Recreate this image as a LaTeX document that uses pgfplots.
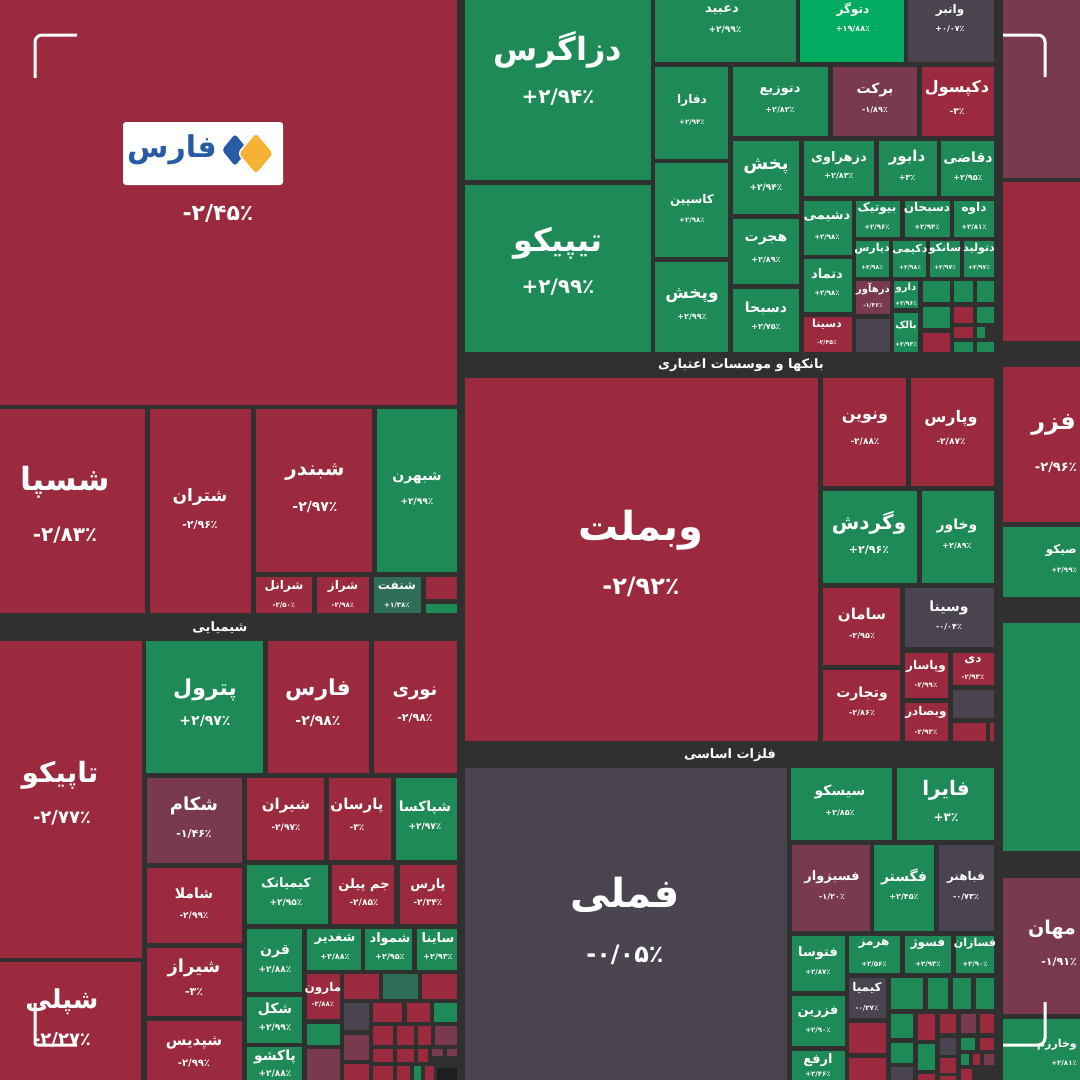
\documentclass[border=0pt]{standalone}
\usepackage{fontspec}
\usepackage{pgfplots}
\pgfplotsset{compat=1.18}
\TeXXeTstate=1
\newfontfamily\af[Script=Arabic]{DejaVu Sans}
\newfontfamily\nf{DejaVu Sans}
\definecolor{bg}{RGB}{48,48,48}
\definecolor{R}{RGB}{155,42,63}
\definecolor{G}{RGB}{30,138,88}
\definecolor{BG}{RGB}{0,172,95}
\definecolor{N}{RGB}{74,68,80}
\definecolor{DR}{RGB}{122,58,77}
\definecolor{DG}{RGB}{46,110,86}
\definecolor{BK}{RGB}{30,30,30}
\definecolor{logoblue}{RGB}{40,90,165}
\definecolor{logoyellow}{RGB}{246,178,52}
\newcommand{\R}[5]{\addplot[fill=#5,draw=none,mark=none,forget plot] coordinates {(#1,#2) (#3,#2) (#3,#4) (#1,#4)};}
\newcommand{\T}[4]{\node[text=white,inner sep=0pt] at (axis cs:#1,#2) {\fontsize{#3}{#3}\selectfont\af\bfseries\beginR #4\endR};}
\newcommand{\TT}[4]{\node[text=white,inner sep=0pt] at (axis cs:#1,#2) {\fontsize{#3}{#3}\selectfont\af\bfseries #4};}
\newcommand{\V}[4]{\node[text=white,inner sep=0pt] at (axis cs:#1,#2) {\fontsize{#3}{#3}\selectfont\nf\bfseries #4};}
\newcommand{\TE}[4]{\node[text=white,inner sep=0pt,anchor=east] at (axis cs:#1,#2) {\fontsize{#3}{#3}\selectfont\af\bfseries\beginR #4\endR};}
\newcommand{\VE}[4]{\node[text=white,inner sep=0pt,anchor=east] at (axis cs:#1,#2) {\fontsize{#3}{#3}\selectfont\nf\bfseries #4};}
\begin{document}
\begin{tikzpicture}
\begin{axis}[scale only axis, width=1080pt, height=1080pt,
  xmin=0, xmax=1080, ymin=0, ymax=1080, y dir=reverse, hide axis, clip=false]
\R{0}{0}{1080}{1080}{bg}
% top-left sector
\R{0}{0}{457}{405}{R}
\R{0}{409}{145}{613}{R}
\R{150}{409}{251}{613}{R}
\R{256}{409}{372}{572}{R}
\R{377}{409}{457}{572}{G}
\R{256}{577}{312}{613}{R}
\R{317}{577}{369}{613}{R}
\R{374}{577}{421}{613}{DG}
\R{426}{577}{457}{599}{R}
\R{426}{604}{457}{613}{G}
% chemicals
\R{0}{641}{142}{958}{R}
\R{146}{641}{263}{773}{G}
\R{268}{641}{369}{773}{R}
\R{374}{641}{457}{773}{R}
\R{147}{778}{242}{863}{DR}
\R{247}{778}{324}{860}{R}
\R{329}{778}{391}{860}{R}
\R{396}{778}{457}{860}{G}
\R{147}{868}{242}{943}{R}
\R{247}{865}{328}{924}{G}
\R{332}{865}{394}{924}{R}
\R{400}{865}{457}{924}{R}
\R{147}{948}{242}{1016}{R}
\R{147}{1021}{242}{1080}{R}
\R{0}{962}{141}{1080}{R}
\R{247}{929}{302}{992}{G}
\R{307}{929}{361}{970}{G}
\R{365}{929}{412}{970}{G}
\R{417}{929}{457}{970}{G}
\R{247}{997}{302}{1043}{G}
\R{247}{1047}{302}{1080}{G}
\R{307}{974}{340}{1019}{R}
\R{344}{974}{379}{999}{R}
\R{383}{974}{418}{999}{DG}
\R{422}{974}{457}{999}{R}
\R{307}{1024}{340}{1045}{G}
\R{344}{1003}{369}{1030}{N}
\R{373}{1003}{402}{1022}{R}
\R{407}{1003}{430}{1022}{R}
\R{434}{1003}{457}{1022}{G}
\R{373}{1026}{393}{1045}{R}
\R{397}{1026}{414}{1045}{R}
\R{418}{1026}{431}{1045}{R}
\R{435}{1026}{457}{1045}{DR}
\R{307}{1049}{340}{1080}{DR}
\R{344}{1035}{369}{1060}{DR}
\R{344}{1064}{369}{1080}{R}
\R{373}{1049}{393}{1062}{R}
\R{397}{1049}{414}{1062}{R}
\R{418}{1049}{428}{1062}{R}
\R{432}{1049}{443}{1056}{DR}
\R{447}{1049}{457}{1056}{DR}
\R{373}{1066}{393}{1080}{R}
\R{397}{1066}{410}{1080}{R}
\R{414}{1066}{421}{1080}{G}
\R{425}{1066}{434}{1080}{R}
\R{437}{1068}{457}{1080}{BK}
% pharma
\R{465}{0}{651}{180}{G}
\R{465}{185}{651}{352}{G}
\R{655}{0}{796}{62}{G}
\R{800}{0}{904}{62}{BG}
\R{908}{0}{994}{62}{N}
\R{655}{67}{728}{159}{G}
\R{655}{163}{728}{257}{G}
\R{655}{262}{728}{352}{G}
\R{733}{67}{828}{136}{G}
\R{833}{67}{917}{136}{DR}
\R{922}{67}{994}{136}{R}
\R{733}{141}{799}{214}{G}
\R{733}{219}{799}{284}{G}
\R{733}{289}{799}{352}{G}
\R{804}{141}{874}{196}{G}
\R{879}{141}{937}{196}{G}
\R{941}{141}{994}{196}{G}
\R{804}{201}{852}{255}{G}
\R{856}{201}{900}{237}{G}
\R{905}{201}{950}{237}{G}
\R{954}{201}{994}{237}{G}
\R{804}{259}{852}{312}{G}
\R{856}{241}{889}{277}{G}
\R{893}{241}{926}{277}{G}
\R{930}{241}{960}{277}{G}
\R{964}{241}{994}{277}{G}
\R{856}{281}{890}{314}{DR}
\R{894}{281}{918}{308}{G}
\R{804}{317}{852}{352}{R}
\R{856}{319}{890}{352}{N}
\R{894}{313}{918}{352}{G}
\R{923}{281}{950}{302}{G}
\R{954}{281}{973}{302}{G}
\R{977}{281}{994}{302}{G}
\R{923}{307}{950}{328}{G}
\R{954}{307}{973}{323}{R}
\R{977}{307}{994}{323}{G}
\R{923}{333}{950}{352}{R}
\R{954}{327}{973}{338}{R}
\R{977}{327}{985}{338}{G}
\R{954}{342}{973}{352}{G}
\R{977}{342}{994}{352}{G}
% right column
\R{1003}{0}{1080}{178}{DR}
\R{1003}{182}{1080}{341}{R}
\R{1003}{367}{1080}{522}{R}
\R{1003}{527}{1080}{597}{G}
\R{1003}{623}{1080}{851}{G}
\R{1003}{878}{1080}{1014}{DR}
\R{1003}{1019}{1080}{1080}{G}
% banks
\R{465}{378}{818}{741}{R}
\R{823}{378}{906}{486}{R}
\R{911}{378}{994}{486}{R}
\R{823}{491}{917}{583}{G}
\R{922}{491}{994}{583}{G}
\R{823}{588}{900}{665}{R}
\R{905}{588}{994}{647}{N}
\R{823}{670}{900}{741}{R}
\R{905}{653}{948}{698}{R}
\R{953}{653}{994}{685}{R}
\R{953}{690}{994}{718}{N}
\R{905}{703}{948}{741}{R}
\R{953}{723}{986}{741}{R}
\R{990}{723}{994}{741}{R}
% metals
\R{465}{768}{787}{1080}{N}
\R{791}{768}{892}{840}{G}
\R{897}{768}{994}{840}{G}
\R{792}{845}{870}{931}{DR}
\R{874}{845}{934}{931}{G}
\R{939}{845}{994}{931}{N}
\R{792}{936}{845}{991}{G}
\R{849}{936}{900}{973}{G}
\R{905}{936}{951}{973}{G}
\R{956}{936}{994}{973}{G}
\R{849}{978}{886}{1018}{N}
\R{891}{978}{923}{1009}{G}
\R{928}{978}{948}{1009}{G}
\R{953}{978}{971}{1009}{G}
\R{976}{978}{994}{1009}{G}
\R{792}{996}{845}{1046}{G}
\R{792}{1051}{845}{1080}{G}
\R{849}{1023}{886}{1053}{R}
\R{849}{1058}{886}{1080}{R}
\R{891}{1014}{913}{1038}{G}
\R{918}{1014}{935}{1040}{R}
\R{940}{1014}{956}{1033}{R}
\R{961}{1014}{976}{1033}{DR}
\R{980}{1014}{994}{1033}{R}
\R{891}{1043}{913}{1063}{G}
\R{918}{1044}{935}{1070}{G}
\R{940}{1038}{956}{1055}{N}
\R{961}{1038}{975}{1050}{G}
\R{980}{1038}{994}{1050}{R}
\R{940}{1058}{956}{1073}{R}
\R{961}{1054}{969}{1065}{G}
\R{973}{1054}{980}{1065}{R}
\R{984}{1054}{994}{1065}{DR}
\R{891}{1067}{913}{1080}{N}
\R{918}{1074}{935}{1080}{R}
\R{940}{1076}{956}{1080}{R}
\R{961}{1069}{972}{1080}{R}
% ---------- texts ----------
% logo
\fill[white,rounded corners=3pt] (axis cs:123,122) rectangle (axis cs:283,185);
\fill[logoblue,rounded corners=3pt] (axis cs:222,150) -- (axis cs:235,134) -- (axis cs:248,150) -- (axis cs:235,166) -- cycle;
\filldraw[fill=logoyellow,draw=white,line width=1.5pt,rounded corners=4pt] (axis cs:238,153.5) -- (axis cs:256,132) -- (axis cs:274,153.5) -- (axis cs:256,175) -- cycle;
\node[inner sep=0pt,text=logoblue] at (axis cs:172,150) {\fontsize{30}{30}\selectfont\af\bfseries\beginR فارس\endR};
\V{218}{213}{22}{-۲/۴۵٪}
\T{65}{482}{32}{شسپا}\V{65}{535}{20}{-۲/۸۳٪}
\T{200}{497}{17}{شتران}\V{200}{525}{11}{-۲/۹۶٪}
\T{315}{472}{20}{شبندر}\V{315}{507}{14}{-۲/۹۷٪}
\T{417}{478}{14}{شبهرن}\V{417}{502}{9}{+۲/۹۹٪}
\T{284}{586}{12}{شرانل}\V{284}{605}{7}{-۲/۵۰٪}
\T{343}{586}{12}{شراز}\V{343}{605}{7}{-۲/۹۸٪}
\T{397}{586}{12}{شنفت}\V{397}{605}{7}{+۱/۳۸٪}
\T{220}{628}{13}{شیمیایی}
\T{60}{775}{28}{تاپیکو}\V{62}{818}{18}{-۲/۷۷٪}
\T{205}{690}{22}{پترول}\V{205}{721}{14}{+۲/۹۷٪}
\T{318}{690}{22}{فارس}\V{318}{721}{14}{-۲/۹۸٪}
\T{415}{693}{18}{نوری}\V{415}{718}{11}{-۲/۹۸٪}
\T{194}{806}{18}{شکام}\V{194}{834}{11}{-۱/۴۶٪}
\T{286}{806}{15}{شیران}\V{286}{828}{9}{-۲/۹۷٪}
\T{357}{806}{15}{پارسان}\V{357}{828}{9}{-۳٪}
\T{425}{808}{14}{شپاکسا}\V{425}{827}{9}{+۲/۹۷٪}
\T{194}{893}{14}{شاملا}\V{194}{916}{9}{-۲/۹۹٪}
\T{286}{884}{13}{کیمیاتک}\V{286}{903}{9}{+۲/۹۵٪}
\TT{364}{885}{13}{\beginR جم پیلن\endR}\V{364}{903}{9}{-۲/۸۵٪}
\T{428}{885}{13}{پارس}\V{428}{903}{9}{-۲/۳۴٪}
\T{194}{968}{18}{شیراز}\V{194}{992}{11}{-۳٪}
\T{194}{1043}{15}{شپدیس}\V{194}{1063}{10}{-۲/۹۹٪}
\T{62}{1002}{26}{شپلی}\V{62}{1040}{18}{-۲/۲۷٪}
\T{275}{952}{14}{قرن}\V{275}{970}{9}{+۲/۸۸٪}
\T{275}{1009}{14}{شکل}\V{275}{1028}{9}{+۲/۹۹٪}
\T{275}{1057}{14}{پاکشو}\V{275}{1074}{9}{+۲/۸۸٪}
\T{335}{939}{13}{شغدیر}\V{335}{957}{8}{+۲/۸۸٪}
\T{390}{939}{13}{شمواد}\V{390}{957}{8}{+۲/۹۵٪}
\T{438}{939}{13}{ساینا}\V{438}{957}{8}{+۲/۹۳٪}
\T{323}{988}{12}{مارون}\V{323}{1004}{7}{-۲/۸۸٪}
% pharma texts
\T{558}{50}{32}{دزاگرس}\V{558}{97}{20}{+۲/۹۴٪}
\T{558}{243}{32}{تیپیکو}\V{558}{287}{20}{+۲/۹۹٪}
\T{722}{10}{13}{دعبید}\V{725}{30}{9}{+۲/۹۹٪}
\T{853}{10}{12}{دتوگر}\V{853}{29}{8}{+۱۹/۸۸٪}
\T{950}{10}{12}{وانبر}\V{950}{29}{8}{+۰/۰۷٪}
\T{692}{100}{12}{دفارا}\V{692}{122}{7}{+۲/۹۴٪}
\T{692}{200}{12}{کاسپین}\V{692}{220}{7}{+۲/۹۸٪}
\T{692}{296}{17}{وپخش}\V{692}{317}{8}{+۲/۹۹٪}
\T{780}{91}{13}{دتوزیع}\V{780}{110}{8}{+۲/۸۲٪}
\T{875}{90}{14}{برکت}\V{875}{110}{8}{-۱/۸۹٪}
\T{957}{88}{16}{دکپسول}\V{957}{112}{9}{-۳٪}
\T{766}{166}{18}{پخش}\V{766}{188}{9}{+۲/۹۴٪}
\T{766}{240}{14}{هجرت}\V{766}{260}{8}{+۲/۸۹٪}
\T{766}{308}{14}{دسبحا}\V{766}{327}{8}{+۲/۷۵٪}
\T{839}{158}{13}{دزهراوی}\V{839}{176}{8}{+۲/۸۳٪}
\T{907}{158}{15}{دابور}\V{907}{178}{8}{+۳٪}
\T{968}{158}{14}{دقاضی}\V{968}{178}{8}{+۲/۹۵٪}
\T{827}{217}{13}{دشیمی}\V{827}{237}{7}{+۲/۹۸٪}
\T{877}{208}{12}{بیوتیک}\V{877}{227}{7}{+۲/۹۶٪}
\T{927}{208}{12}{دسبحان}\V{927}{227}{7}{+۲/۹۴٪}
\T{974}{208}{12}{داوه}\V{974}{227}{7}{+۲/۸۱٪}
\T{827}{274}{13}{دتماد}\V{827}{293}{7}{+۲/۹۸٪}
\T{872}{249}{11}{دپارس}\V{872}{268}{6}{+۲/۹۸٪}
\T{910}{249}{11}{دکیمی}\V{910}{268}{6}{+۲/۹۸٪}
\T{945}{249}{11}{سانکو}\V{945}{268}{6}{+۲/۹۷٪}
\T{979}{249}{11}{دتولید}\V{979}{268}{6}{+۲/۹۷٪}
\T{873}{289}{10}{درهآور}\V{873}{306}{6}{-۱/۳۶٪}
\T{906}{288}{10}{دارو}\V{906}{304}{6}{+۲/۹۶٪}
\T{827}{324}{11}{دسینا}\V{827}{343}{6}{-۲/۴۵٪}
\T{906}{326}{10}{بالک}\V{906}{345}{6}{+۲/۹۳٪}
\TT{741}{365}{13}{\beginR بانکها و موسسات اعتباری\endR}
% banks texts
\T{641}{530}{40}{وبملت}\V{641}{587}{24}{-۲/۹۲٪}
\T{865}{418}{16}{ونوین}\V{865}{442}{9}{-۲/۸۸٪}
\T{951}{418}{16}{وپارس}\V{951}{442}{9}{-۲/۸۷٪}
\T{869}{523}{20}{وگردش}\V{869}{550}{11}{+۲/۹۶٪}
\T{957}{526}{14}{وخاور}\V{957}{546}{8}{+۲/۸۹٪}
\T{862}{615}{15}{سامان}\V{862}{636}{8}{-۲/۹۵٪}
\T{949}{608}{14}{وسینا}\V{949}{627}{8}{-۰/۰۴٪}
\T{862}{694}{14}{وتجارت}\V{862}{713}{8}{-۲/۸۶٪}
\T{926}{666}{12}{وپاسار}\V{926}{685}{7}{-۲/۹۹٪}
\T{973}{660}{12}{دی}\V{973}{677}{7}{-۲/۹۳٪}
\T{926}{712}{12}{وبصادر}\V{926}{732}{7}{-۲/۹۳٪}
\TT{730}{755}{13}{\beginR فلزات اساسی\endR}
% metals texts
\T{625}{895}{40}{فملی}\V{625}{955}{24}{-۰/۰۵٪}
\T{840}{792}{14}{سیسکو}\V{840}{813}{8}{+۲/۸۵٪}
\T{946}{790}{20}{فایرا}\V{946}{818}{12}{+۳٪}
\T{832}{877}{13}{فسبزوار}\V{832}{897}{8}{-۱/۲۰٪}
\T{904}{877}{14}{فگستر}\V{904}{897}{8}{+۲/۴۵٪}
\T{966}{877}{12}{فباهنر}\V{966}{897}{8}{-۰/۷۳٪}
\T{818}{953}{13}{فتوسا}\V{818}{972}{7}{+۲/۸۷٪}
\T{874}{944}{12}{هرمز}\V{874}{964}{7}{+۲/۵۶٪}
\T{928}{944}{12}{فسوژ}\V{928}{964}{7}{+۲/۹۳٪}
\T{975}{944}{11}{فسازان}\V{975}{964}{7}{+۲/۹۰٪}
\T{867}{988}{12}{کیمیا}\V{867}{1008}{7}{-۰/۲۷٪}
\T{818}{1012}{13}{فزرین}\V{818}{1030}{7}{+۲/۹۰٪}
\T{818}{1060}{13}{ارفع}\V{818}{1074}{7}{+۲/۴۶٪}
% right column texts
\TE{1076}{425}{24}{فزر}\VE{1077}{467}{13}{-۲/۹۶٪}
\TE{1077}{550}{12}{صیکو}\VE{1077}{570}{7}{+۲/۹۹٪}
\TE{1076}{930}{19}{مهان}\VE{1077}{962}{11}{-۱/۹۱٪}
\TE{1077}{1045}{11}{وخارزم}\VE{1077}{1063}{7}{+۲/۸۱٪}
% corner brackets
\draw[white,line width=3pt,rounded corners=7pt] (axis cs:35,78) -- (axis cs:35,35) -- (axis cs:77,35);
\draw[white,line width=3pt,rounded corners=7pt] (axis cs:1003,35) -- (axis cs:1045,35) -- (axis cs:1045,77);
\draw[white,line width=3pt,rounded corners=2pt] (axis cs:35,1003) -- (axis cs:35,1045) -- (axis cs:77,1045);
\draw[white,line width=3pt,rounded corners=7pt] (axis cs:1045,1002) -- (axis cs:1045,1045) -- (axis cs:1003,1045);
\end{axis}
\pgfresetboundingbox
\useasboundingbox (0,0) rectangle (1080pt,1080pt);
\end{tikzpicture}
\end{document}
